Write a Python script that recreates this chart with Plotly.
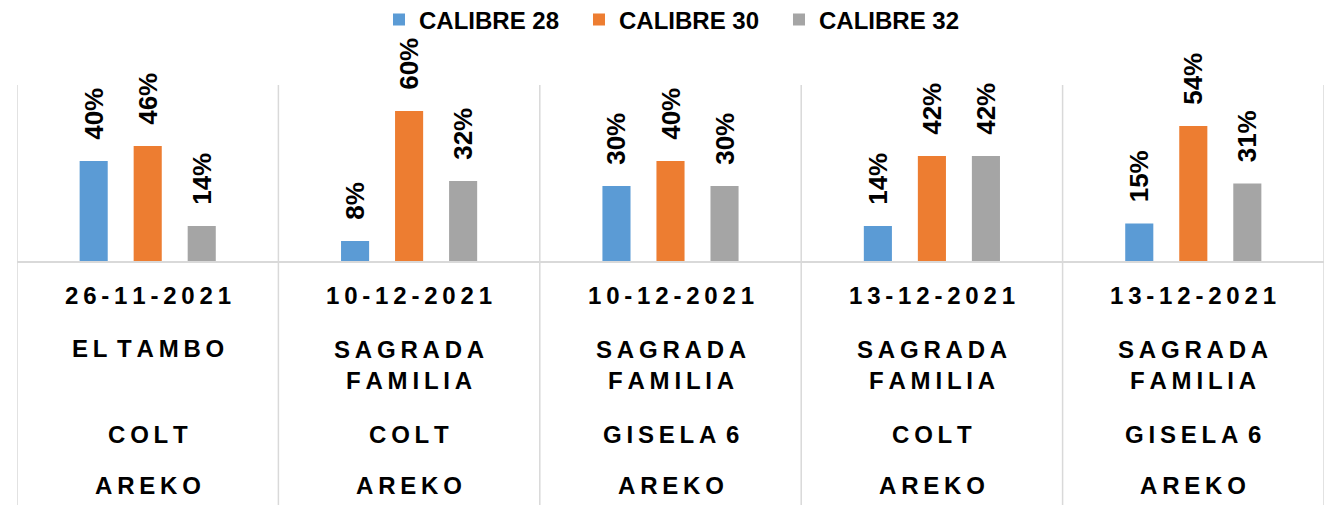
import plotly.graph_objects as go

# ---- data ----
dates = ["26-11-2021", "10-12-2021", "10-12-2021", "13-12-2021", "13-12-2021"]
locations = ["EL TAMBO", "SAGRADA FAMILIA", "SAGRADA FAMILIA", "SAGRADA FAMILIA", "SAGRADA FAMILIA"]
rootstocks = ["COLT", "COLT", "GISELA 6", "COLT", "GISELA 6"]
varieties = ["AREKO", "AREKO", "AREKO", "AREKO", "AREKO"]

series_names = ["CALIBRE 28", "CALIBRE 30", "CALIBRE 32"]
calibre_28 = [40, 8, 30, 14, 15]
calibre_30 = [46, 60, 40, 42, 54]
calibre_32 = [14, 32, 30, 42, 31]

# ---- style ----
colors = ["#5B9BD5", "#ED7D31", "#A5A5A5"]
FONT = "Liberation Sans, Arial, sans-serif"
GRID = "#D9D9D9"
W, H = 1332, 517
ML, MR, MT, MB = 17, 8, 85, 256
PLOT_H = H - MT - MB
PX_PER_UNIT = 2.5
PAD = "\u2002\u2009"


def spaced(s):
    # expanded character spacing like the original (word gap = two thin spaces)
    out_lines = []
    for line in s.split("<br>"):
        words = line.split(" ")
        out_lines.append("\u2009\u2009".join("\u2009".join(w) for w in words))
    return "<br>".join(out_lines)


def wrap(s, maxlen=10):
    return s.replace(" ", "<br>") if len(s) > maxlen else s


def ypaper(py):
    return (H - MB - py) / PLOT_H


x_idx = list(range(len(dates)))

fig = go.Figure()
for name, vals, col in zip(series_names, [calibre_28, calibre_30, calibre_32], colors):
    fig.add_trace(go.Bar(
        name=name, x=x_idx, y=vals,
        marker=dict(color=col, line=dict(width=0)),
        text=[PAD + f"{v}%" for v in vals],
        textposition="outside", textangle=-90, constraintext="none",
        textfont=dict(family=FONT, size=26, color="#000000", weight="bold"),
        cliponaxis=False,
    ))

shapes = []
for k in range(len(dates) + 1):
    shapes.append(dict(type="line", xref="x", yref="paper",
                       x0=k - 0.5, x1=k - 0.5, y0=ypaper(505), y1=1.0,
                       line=dict(color=GRID, width=1.5), layer="below"))

annotations = []
lab_font = dict(family=FONT, size=24, color="#000000", weight="bold")
for i in x_idx:
    annotations.append(dict(x=i, y=ypaper(295.5), xref="x", yref="paper",
                            text=spaced(dates[i]), showarrow=False,
                            yanchor="middle", font=lab_font))
    loc = wrap(locations[i])
    nlines = loc.count("<br>") + 1
    cy = 348.7 + (nlines - 1) * 16
    annotations.append(dict(x=i, y=ypaper(cy), xref="x", yref="paper",
                            text=spaced(loc), showarrow=False,
                            yanchor="middle", font=lab_font))
    annotations.append(dict(x=i, y=ypaper(434), xref="x", yref="paper",
                            text=spaced(rootstocks[i]), showarrow=False,
                            yanchor="middle", font=lab_font))
    annotations.append(dict(x=i, y=ypaper(485.5), xref="x", yref="paper",
                            text=spaced(varieties[i]), showarrow=False,
                            yanchor="middle", font=lab_font))

fig.update_layout(
    width=W, height=H,
    margin=dict(l=ML, r=MR, t=MT, b=MB, pad=0, autoexpand=False),
    paper_bgcolor="white", plot_bgcolor="white",
    barmode="group", bargap=0.38, bargroupgap=0.48,
    showlegend=True,
    legend=dict(orientation="h", x=0.5065, xanchor="center",
                yref="container", y=1 - 20 / H, yanchor="middle",
                font=dict(family=FONT, size=24, color="#000000", weight="bold"),
                entrywidth=155, entrywidthmode="pixels",
                bgcolor="rgba(0,0,0,0)"),
    xaxis=dict(range=[-0.5, len(dates) - 0.5], showticklabels=False,
               showgrid=False, zeroline=False, showline=True,
               linecolor=GRID, linewidth=1.5, ticks=""),
    yaxis=dict(range=[0, PLOT_H / PX_PER_UNIT], visible=False,
               showgrid=False, zeroline=False),
    shapes=shapes,
    annotations=annotations,
)

fig.write_html("out.html",
               config={"displayModeBar": False},
               post_script="document.body.style.margin='0px';document.body.style.padding='0px';")
